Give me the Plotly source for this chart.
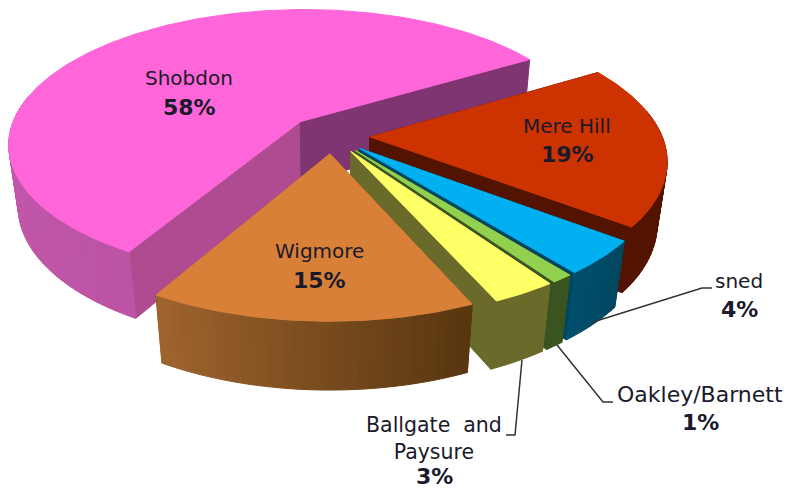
import math
import plotly.graph_objects as go

categories = ["Mere Hill", "sned", "Oakley/Barnett", "Ballgate  and<br>Paysure", "Wigmore", "Shobdon"]
values = [19, 4, 1, 3, 15, 58]
top_colors = ["#CC3300", "#00B0F0", "#92D050", "#FFFF66", "#D98038", "#FF66D9"]
wall_a = ["#521400", "#00465F", "#3A5420", "#6A6A2A", "#57350F", "#BC53A4"]
wall_b = ["#521400", "#00506E", "#3A5420", "#6A6A2A", "#A0642E", "#D462BE"]
cut_a = ["#521400", "#00465F", "#3A5420", "#6A6A2A", "#57350F", "#AF4C91"]
cut_b = ["#521400", "#00465F", "#3A5420", "#6A6A2A", "#A0642E", "#7F3572"]
pulls = [0.13, 0.13, 0.13, 0.13, 0.13, 0.155]

START = 31.2
CX, CY = 332.0, 136.0
R, SQ, HT = 292.0, 0.46, 64.0
P, Q = 0.16, 0.03


def project(x, y, z):
    d = 1 + P * y - Q * z
    return CX + R * x / d, CY - R * SQ * y / d - HT * z / d


def mix(a, b, t):
    ca = [int(a[i:i + 2], 16) for i in (1, 3, 5)]
    cb = [int(b[i:i + 2], 16) for i in (1, 3, 5)]
    return "rgb(%d,%d,%d)" % tuple(round(u + (v - u) * t) for u, v in zip(ca, cb))


fig = go.Figure()


def poly(pts, color):
    xs = [p[0] for p in pts] + [pts[0][0]]
    ys = [p[1] for p in pts] + [pts[0][1]]
    fig.add_trace(go.Scatter(x=xs, y=ys, mode="lines", fill="toself", fillcolor=color,
                             line=dict(color=color, width=1), hoverinfo="skip", showlegend=False))


total = sum(values)
angle = START
slices = []
for i, v in enumerate(values):
    a0 = angle
    a1 = angle - v / total * 360
    angle = a1
    slices.append((i, a0, a1))

order = [5, 0, 1, 2, 3, 4]
for i in order:
    _, a0, a1 = slices[i]
    mid = math.radians((a0 + a1) / 2)
    ox, oy = pulls[i] * math.cos(mid), pulls[i] * math.sin(mid)
    rim = lambda deg, z: project(ox + math.cos(math.radians(deg)), oy + math.sin(math.radians(deg)), z)
    apex = lambda z: project(ox, oy, z)
    poly([apex(0), rim(a0, 0), rim(a0, -1), apex(-1)], cut_a[i])
    poly([apex(0), rim(a1, 0), rim(a1, -1), apex(-1)], cut_b[i])
    n = max(2, int(abs(a0 - a1) / 1.5))
    for k in range(n):
        d0 = a0 + (a1 - a0) * k / n
        d1 = a0 + (a1 - a0) * (k + 1) / n
        if math.sin(math.radians((d0 + d1) / 2)) > 0.2:
            continue
        t = (k + 0.5) / n
        poly([rim(d0, 0), rim(d1, 0), rim(d1, -1), rim(d0, -1)], mix(wall_a[i], wall_b[i], t))
    n = max(3, int(abs(a0 - a1)))
    poly([apex(0)] + [rim(a0 + (a1 - a0) * k / n, 0) for k in range(n + 1)], top_colors[i])

leaders = [
    ([593, 702, 712], [322, 288, 288]),
    ([557, 603, 613], [345, 402, 402]),
    ([522, 515, 506], [360, 435, 435]),
]
for lx, ly in leaders:
    fig.add_trace(go.Scatter(x=lx, y=ly, mode="lines", line=dict(color="#333333", width=1.5),
                             hoverinfo="skip", showlegend=False))

label_x = [567, 739, 700, 434, 319, 189]
name_y = [126, 281, 394, 438, 251, 78]
value_y = [154, 309, 422, 476, 280, 107]
name_size = [20, 20, 22, 20.5, 20, 20]
for i in range(len(values)):
    fig.add_annotation(x=label_x[i], y=name_y[i], text=categories[i], showarrow=False,
                       font=dict(family="DejaVu Sans", size=name_size[i], color="#1A1A2A"), align="center")
    fig.add_annotation(x=label_x[i], y=value_y[i], text=f"<b>{values[i]}%</b>", showarrow=False,
                       font=dict(family="DejaVu Sans", size=22, color="#1A1A2A"), align="center")

fig.update_layout(width=789, height=491, margin=dict(l=0, r=0, t=0, b=0), showlegend=False,
                  paper_bgcolor="white", plot_bgcolor="white",
                  xaxis=dict(range=[0, 789], visible=False),
                  yaxis=dict(range=[491, 0], visible=False))
fig.write_html("out.html", config={"displayModeBar": False}, post_script="document.body.style.margin='0';")
